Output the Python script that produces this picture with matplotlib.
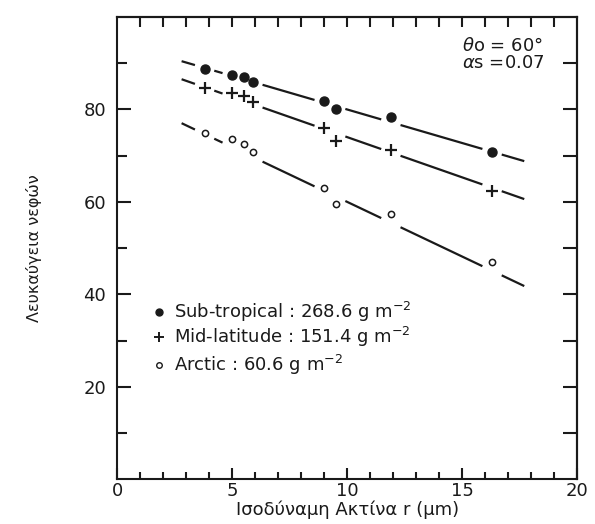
import matplotlib
matplotlib.use("Agg")
import matplotlib.pyplot as plt
import numpy as np

# Cloud albedo vs. equivalent droplet radius for three liquid water paths.
radius = [3.8, 5.0, 5.5, 5.9, 9.0, 9.5, 11.9, 16.3]
subtropical = [88.7, 87.4, 86.9, 85.9, 81.7, 80.0, 78.3, 70.7]
midlatitude = [84.6, 83.5, 82.8, 81.5, 75.9, 73.1, 71.2, 62.3]
arctic = [74.8, 73.5, 72.6, 70.8, 63.0, 59.5, 57.3, 47.0]

# Fitted lines, given at x = fit_x[0] and fit_x[1]
fit_x = [2.8, 17.7]
fit_subtropical = [90.4, 68.8]
fit_midlatitude = [86.5, 60.6]
fit_arctic = [77.0, 41.8]

legend_labels = [
    r"Sub-tropical : 268.6 g m$^{-2}$",
    r"Mid-latitude : 151.4 g m$^{-2}$",
    r"Arctic : 60.6 g m$^{-2}$",
]

INK = "#1a1a1a"
plt.rcParams["font.family"] = ["DejaVu Sans"]

fig = plt.figure(figsize=(5.95, 5.24), dpi=100)
ax = fig.add_axes([0.197, 0.085, 0.773, 0.883])


def broken_line(ax, ys, marker_x, gap=0.42):
    """Draw the fit line with a short break around every data marker."""
    x0, x1 = fit_x
    segs = []
    start = x0
    for mx in sorted(marker_x):
        lo, hi = mx - gap, mx + gap
        if lo > start:
            segs.append((start, lo))
        start = max(start, hi)
    if start < x1:
        segs.append((start, x1))
    for a, b in segs:
        xs = np.array([a, b])
        ax.plot(xs, np.interp(xs, fit_x, ys), color=INK, lw=1.6,
                solid_capstyle="butt", zorder=2)


for ys in (fit_subtropical, fit_midlatitude, fit_arctic):
    broken_line(ax, ys, radius)

ax.plot(radius, subtropical, "o", ms=6.5, color=INK, ls="none", zorder=3)
ax.plot(radius, midlatitude, "+", ms=8, mew=1.6, color=INK, ls="none", zorder=3)
ax.plot(radius, arctic, "o", ms=4.5, mfc="white", mec=INK, mew=1.1,
        ls="none", zorder=3)

# In-plot key
key_y = [36.2, 30.8, 24.8]
ax.plot([1.8], [key_y[0]], "o", ms=5, color=INK)
ax.plot([1.8], [key_y[1]], "+", ms=7, mew=1.4, color=INK)
ax.plot([1.8], [key_y[2]], "o", ms=4, mfc="white", mec=INK, mew=1.0)
for y, lab in zip(key_y, legend_labels):
    ax.text(2.45, y, lab, fontsize=13, color=INK, va="center", ha="left")

ax.text(15.0, 93.6, r"$\theta$o = 60°", fontsize=13, color=INK, va="center")
ax.text(15.0, 89.9, r"$\alpha$s =0.07", fontsize=13, color=INK, va="center")

ax.set_xlim(0, 20)
ax.set_ylim(0, 100)
for sp in ax.spines.values():
    sp.set_linewidth(1.5)
    sp.set_color(INK)

ax.set_xticks([0, 5, 10, 15, 20])
ax.set_xticks(np.arange(1, 20), minor=True)
ax.set_yticks([20, 40, 60, 80])
ax.set_yticks([10, 30, 50, 70, 90], minor=True)
ax.tick_params(axis="x", which="major", direction="in", length=8, width=1.5,
               top=False, labelsize=13, pad=2, colors=INK)
ax.tick_params(axis="x", which="minor", direction="in", length=5, width=1.5,
               top=False, colors=INK)
ax.tick_params(axis="y", which="major", direction="in", length=10, width=1.5,
               right=False, labelsize=13, pad=8, colors=INK)
ax.tick_params(axis="y", which="minor", direction="in", length=7, width=1.5,
               right=False, colors=INK)

# Top and right edges carry their own tick rows
top = ax.secondary_xaxis("top")
top.set_xticks(np.arange(1, 20))
top.tick_params(direction="in", length=7, width=1.5, labeltop=False, colors=INK)
top.spines["top"].set_linewidth(1.5)
right = ax.secondary_yaxis("right")
right.set_yticks(np.arange(10, 100, 10))
right.tick_params(direction="in", length=10, width=1.5, labelright=False, colors=INK)
right.spines["right"].set_linewidth(1.5)

ax.set_xlabel("Ισοδύναμη Ακτίνα r (μm)", fontsize=13, color=INK, labelpad=0)
ax.set_ylabel("Λευκαύγεια νεφών", fontsize=11.5, color=INK, labelpad=30)

fig.savefig("out.png", dpi=100, facecolor="white")
